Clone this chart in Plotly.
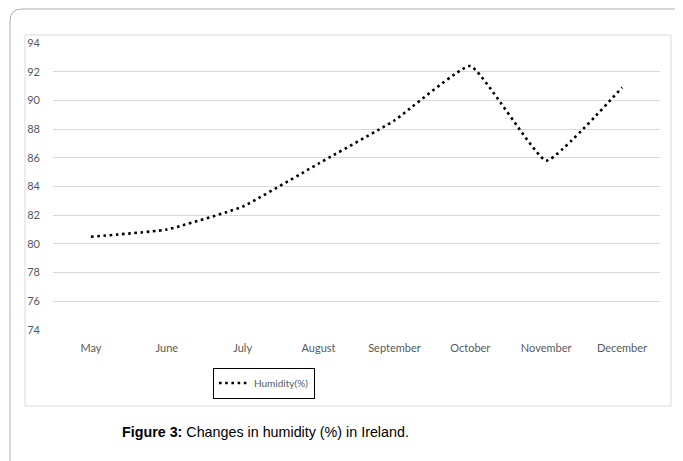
import plotly.graph_objects as go

months = ["May", "June", "July", "August", "September", "October", "November", "December"]
humidity = [80.5, 81.0, 82.6, 85.6, 88.6, 92.4, 85.8, 90.9]
y_ticks = [74, 76, 78, 80, 82, 84, 86, 88, 90, 92, 94]
series_name = "Humidity(%)"
caption_bold = "Figure 3:"
caption_text = " Changes in humidity (%) in Ireland."

OFF = 8  # page body margin
W, H = 683 - OFF, 461 - OFF
L, T = 53 - OFF, 43 - OFF
R = W - (660 - OFF)
B = H - (330 - OFF)
PW, PH = W - L - R, H - T - B

fig = go.Figure()
fig.add_trace(go.Scatter(
    x=months, y=humidity, mode="lines", name=series_name,
    line=dict(color="#000000", width=2.6, dash="2.6px,3.6px", shape="spline", smoothing=0.35),
))

def px_x(v):
    return (v - OFF - L) / PW

def px_y(v):
    return (H - B - (v - OFF)) / PH

# outer rounded frame
r = 12
x0, y0, x1, y1 = 10, 9, 700, 480
path = (f"M {px_x(x0)},{px_y(y1)} L {px_x(x0)},{px_y(y0 + r)} "
        f"Q {px_x(x0)},{px_y(y0)} {px_x(x0 + r)},{px_y(y0)} L {px_x(x1)},{px_y(y0)}")
shapes = [
    dict(type="path", xref="paper", yref="paper", path=path,
         line=dict(color="#b0b0b0", width=1)),
    dict(type="rect", xref="paper", yref="paper",
         x0=px_x(25), x1=px_x(671), y0=px_y(406), y1=px_y(35),
         line=dict(color="#d9d9d9", width=1)),
]

fig.update_layout(
    width=W, height=H,
    margin=dict(l=L, r=R, t=T, b=B, autoexpand=False),
    paper_bgcolor="white", plot_bgcolor="white",
    showlegend=True,
    legend=dict(
        x=px_x(264), y=px_y(383),
        xanchor="center", yanchor="middle",
        bordercolor="#000000", borderwidth=1,
        font=dict(family="Lato, sans-serif", size=10, color="#595959"),
        itemwidth=30, bgcolor="white",
    ),
    xaxis=dict(
        range=[-0.5, 7.5], automargin=False,
        showgrid=False, showline=False, zeroline=False, ticks="",
        ticklabelstandoff=10,
        tickfont=dict(family="Lato, sans-serif", size=11, color="#595959"),
    ),
    yaxis=dict(
        range=[74, 94], tickvals=y_ticks, showgrid=True, gridcolor="#d9d9d9",
        gridwidth=1, zeroline=False, showline=False, ticks="", automargin=False,
        ticklabelstandoff=12,
        tickfont=dict(family="Lato, sans-serif", size=11, color="#595959"),
    ),
    shapes=shapes,
    annotations=[dict(
        xref="paper", yref="paper", x=px_x(265), y=px_y(432),
        xanchor="center", yanchor="middle", showarrow=False,
        text=f"<b>{caption_bold}</b>{caption_text}",
        font=dict(family="Liberation Sans, Arial, sans-serif", size=14.3, color="#000000"),
    )],
)

fig.write_html("out.html")
